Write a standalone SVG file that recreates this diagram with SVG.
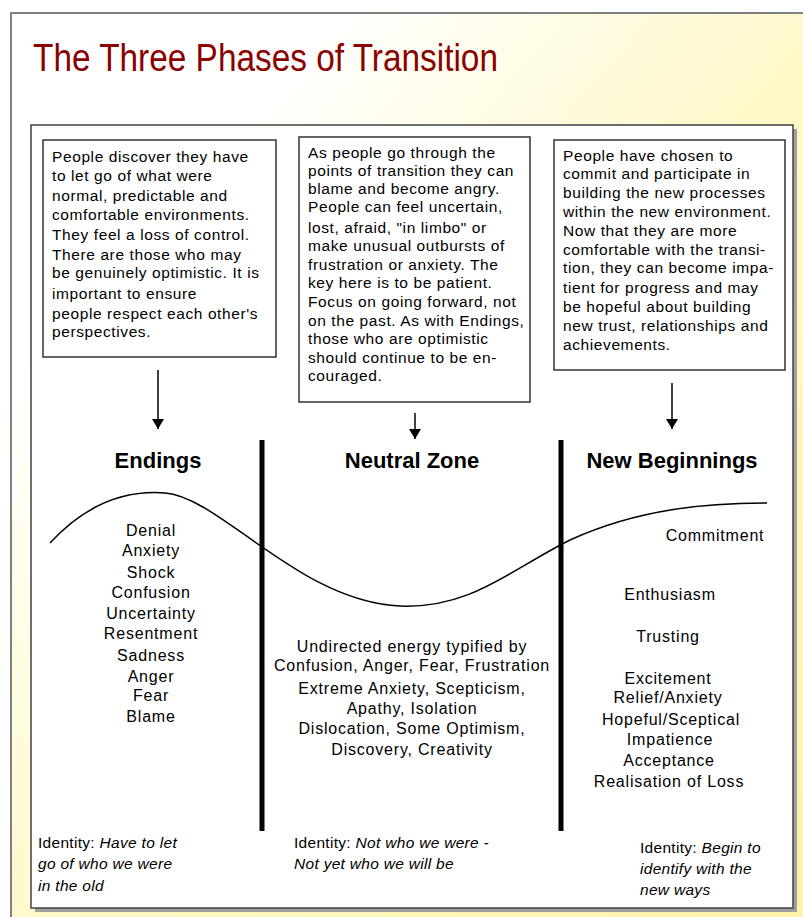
<svg xmlns="http://www.w3.org/2000/svg" width="803" height="917" viewBox="0 0 803 917">
<style>
text{font-family:"Liberation Sans",Arial,sans-serif;fill:#000}
.title{font-size:38px;fill:#8B0000}
.box{fill:#fff;stroke:#333;stroke-width:1.5}
.bt{font-size:15.5px;letter-spacing:0.6px}
.hd{font-size:22px;font-weight:bold;text-anchor:middle}
.li{font-size:16px;letter-spacing:0.8px;text-anchor:middle}
.id{font-size:15.5px;letter-spacing:0.3px}
.it{font-style:italic}
.conn{stroke:#000;stroke-width:1.5;fill:none}
.bar{stroke:#000;stroke-width:5}
</style>
<defs>
<linearGradient id="bg" x1="0" y1="0" x2="1" y2="1">
<stop offset="0" stop-color="#ffffff"/>
<stop offset="0.2" stop-color="#ffffff"/>
<stop offset="0.55" stop-color="#fff8c4"/>
<stop offset="1" stop-color="#fff3a8"/>
</linearGradient>
<marker id="ah" viewBox="0 0 10 12" refX="10" refY="6" markerWidth="10" markerHeight="12" markerUnits="userSpaceOnUse" orient="auto">
<path d="M0,0 L10,6 L0,12 Z" fill="#000"/>
</marker>
</defs>
<rect x="0" y="0" width="803" height="917" fill="#fff"/>
<rect x="11" y="13" width="800" height="910" fill="url(#bg)" stroke="#808080" stroke-width="2"/>
<text class="title" x="33" y="71" textLength="465" lengthAdjust="spacingAndGlyphs">The Three Phases of Transition</text>
<rect x="35" y="129" width="762" height="783" fill="#a0a0a0"/>
<rect x="31" y="125" width="762" height="783" fill="#fff" stroke="#404040" stroke-width="1.5"/>

<g id="box-endings">
<rect class="box" x="43" y="140" width="233" height="217"/>
<text class="bt" x="52" y="162">People discover they have</text>
<text class="bt" x="52" y="181">to let go of what were</text>
<text class="bt" x="52" y="201">normal, predictable and</text>
<text class="bt" x="52" y="220">comfortable environments.</text>
<text class="bt" x="52" y="240">They feel a loss of control.</text>
<text class="bt" x="52" y="260">There are those who may</text>
<text class="bt" x="52" y="278">be genuinely optimistic.  It is</text>
<text class="bt" x="52" y="299">important to ensure</text>
<text class="bt" x="52" y="319">people respect each other's</text>
<text class="bt" x="52" y="337">perspectives.</text>
</g>

<g id="box-neutral">
<rect class="box" x="299" y="137" width="231" height="265"/>
<text class="bt" x="308" y="158">As people go through the</text>
<text class="bt" x="308" y="176">points of transition they can</text>
<text class="bt" x="308" y="194">blame and become angry.</text>
<text class="bt" x="308" y="212">People can feel uncertain,</text>
<text class="bt" x="308" y="233">lost, afraid, "in limbo" or</text>
<text class="bt" x="308" y="251">make unusual outbursts of</text>
<text class="bt" x="308" y="270">frustration or anxiety. The</text>
<text class="bt" x="308" y="288">key here is to be patient.</text>
<text class="bt" x="308" y="307">Focus on going forward, not</text>
<text class="bt" x="308" y="326">on the past. As with Endings,</text>
<text class="bt" x="308" y="344">those who are optimistic</text>
<text class="bt" x="308" y="363">should continue to be en-</text>
<text class="bt" x="308" y="381">couraged.</text>
</g>

<g id="box-beginnings">
<rect class="box" x="554" y="140" width="231" height="230"/>
<text class="bt" x="563" y="161">People have chosen to</text>
<text class="bt" x="563" y="179">commit and participate in</text>
<text class="bt" x="563" y="198">building the new processes</text>
<text class="bt" x="563" y="217">within the new environment.</text>
<text class="bt" x="563" y="236">Now that they are more</text>
<text class="bt" x="563" y="255">comfortable with the transi-</text>
<text class="bt" x="563" y="273">tion, they can become impa-</text>
<text class="bt" x="563" y="293">tient for progress and may</text>
<text class="bt" x="563" y="312">be hopeful about building</text>
<text class="bt" x="563" y="331">new trust, relationships and</text>
<text class="bt" x="563" y="350">achievements.</text>
</g>

<g id="connectors">
<line class="conn" x1="158" y1="370" x2="158" y2="429" marker-end="url(#ah)"/>
<line class="conn" x1="415" y1="413" x2="415" y2="439" marker-end="url(#ah)"/>
<line class="conn" x1="672" y1="383" x2="672" y2="429" marker-end="url(#ah)"/>
<path class="conn" d="M50,543 C85,505 125,490 165,493 C220,497 300,602 400,606 C470,609 510,570 570,540 C640,508 710,503 767,503"/>
<line class="bar" x1="262" y1="440" x2="262" y2="831"/>
<line class="bar" x1="561" y1="440" x2="561" y2="831"/>
</g>

<g id="endings">
<text class="hd" x="158" y="468">Endings</text>
<text class="li" x="151" y="536">Denial</text>
<text class="li" x="151" y="556">Anxiety</text>
<text class="li" x="151" y="578">Shock</text>
<text class="li" x="151" y="598">Confusion</text>
<text class="li" x="151" y="619">Uncertainty</text>
<text class="li" x="151" y="639">Resentment</text>
<text class="li" x="151" y="661">Sadness</text>
<text class="li" x="151" y="682">Anger</text>
<text class="li" x="151" y="701">Fear</text>
<text class="li" x="151" y="722">Blame</text>
<text class="id" x="38" y="848">Identity: <tspan class="it">Have to let</tspan></text>
<text class="id it" x="38" y="869">go of who we  were</text>
<text class="id it" x="38" y="891">in the old</text>
</g>

<g id="neutral-zone">
<text class="hd" x="412" y="468">Neutral Zone</text>
<text class="li" x="412" y="652">Undirected energy typified by</text>
<text class="li" x="412" y="671">Confusion, Anger, Fear, Frustration</text>
<text class="li" x="412" y="694">Extreme Anxiety, Scepticism,</text>
<text class="li" x="412" y="714">Apathy, Isolation</text>
<text class="li" x="412" y="734">Dislocation, Some Optimism,</text>
<text class="li" x="412" y="755">Discovery, Creativity</text>
<text class="id" x="294" y="848">Identity: <tspan class="it">Not who we were -</tspan></text>
<text class="id it" x="294" y="869">Not yet who we will be</text>
</g>

<g id="new-beginnings">
<text class="hd" x="672" y="468">New Beginnings</text>
<text class="li" x="715" y="541">Commitment</text>
<text class="li" x="670" y="600">Enthusiasm</text>
<text class="li" x="668" y="642">Trusting</text>
<text class="li" x="668" y="684">Excitement</text>
<text class="li" x="668" y="703">Relief/Anxiety</text>
<text class="li" x="671" y="725">Hopeful/Sceptical</text>
<text class="li" x="670" y="745">Impatience</text>
<text class="li" x="669" y="766">Acceptance</text>
<text class="li" x="669" y="787">Realisation of Loss</text>
<text class="id" x="640" y="853">Identity: <tspan class="it">Begin to</tspan></text>
<text class="id it" x="640" y="874">identify with the</text>
<text class="id it" x="640" y="895">new ways</text>
</g>
</svg>
